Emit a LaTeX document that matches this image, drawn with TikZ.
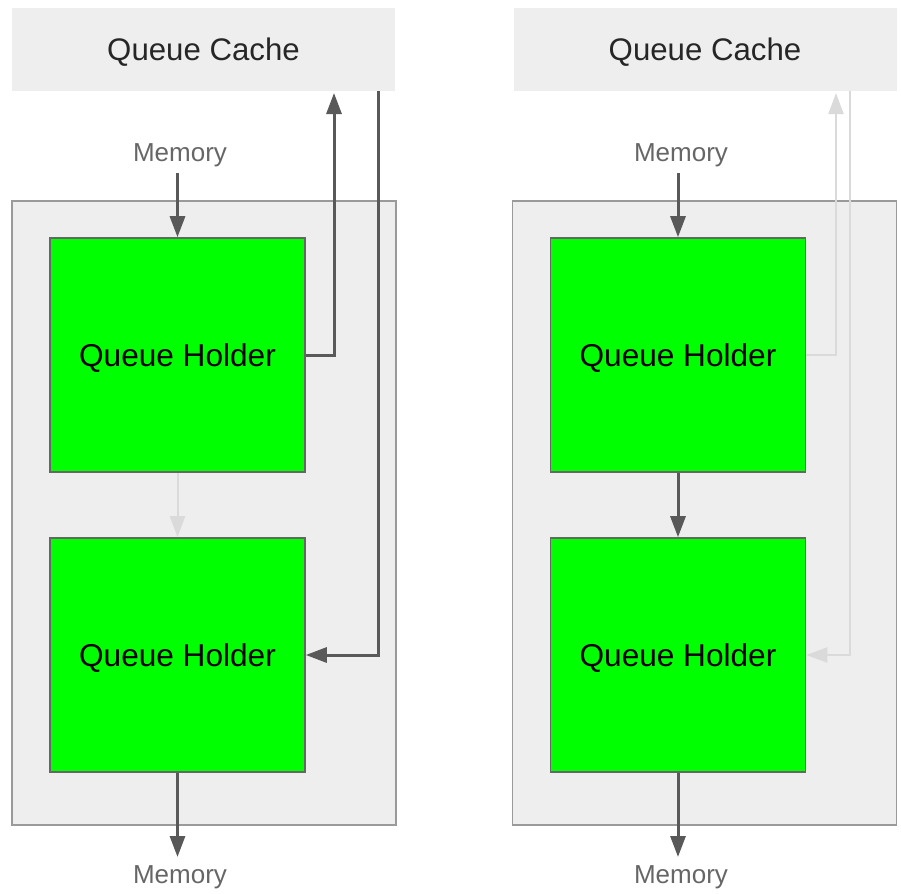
\documentclass[tikz,border=0pt]{standalone}
\usepackage{fontspec}
\setmainfont{Liberation Sans}
\usetikzlibrary{arrows.meta, positioning, calc}
\definecolor{panelgray}{HTML}{EEEEEE}
\definecolor{framegray}{HTML}{9A9A9A}
\definecolor{flowgray}{HTML}{595959}
\definecolor{idlegray}{HTML}{DADADA}
\definecolor{holdgreen}{HTML}{00FF00}
\tikzset{
	cachenode/.style={
			rectangle,
			fill=panelgray,
			draw=none,
			minimum width=191.5pt,
			minimum height=41.5pt,
			inner sep=0pt,
			text depth=0pt,
			font=\fontsize{15.6}{18}\selectfont,
			text=black!85
		},
	framenode/.style={
			rectangle,
			fill=panelgray,
			draw=framegray,
			line width=0.8pt,
			minimum width=192pt,
			minimum height=312pt,
			inner sep=0pt
		},
	holdernode/.style={
			rectangle,
			fill=holdgreen,
			draw=black!60,
			line width=0.8pt,
			minimum width=127.5pt,
			minimum height=117pt,
			inner sep=0pt,
			text depth=0pt,
			font=\fontsize{15.8}{18}\selectfont
		},
	memnode/.style={
			inner sep=0pt,
			text depth=0pt,
			text=black!60,
			font=\fontsize{13}{15}\selectfont
		},
	flow/.style={
			draw=flowgray,
			line width=1.5pt,
			-{Triangle[length=10.5pt,width=7.5pt]}
		},
	idleflow/.style={
			draw=idlegray,
			line width=1pt,
			-{Triangle[length=10.5pt,width=7.5pt]}
		}
}

\begin{document}
\begin{tikzpicture}[x=0.5pt, y=-0.5pt]
\useasboundingbox (0,0) rectangle (901,894);

% left panel
\node[cachenode] (cacheL) at (203.5,49.5) {Queue Cache};
\node[framenode] (frameL) at (204,513) {};
\node[holdernode] (holdL1) at (177.5,355) {Queue Holder};
\node[holdernode] (holdL2) at (177.5,655) {Queue Holder};
\node[memnode] (memL1) at (180,153) {Memory};
\node[memnode] (memL2) at (180,875) {Memory};
\coordinate (upL) at (334,93);
\coordinate (downL) at (378,91);

\draw[flow] (177.5,173) -- (holdL1.north);
\draw[idleflow] (holdL1.south) -- (holdL2.north);
\draw[flow] (holdL2.south) -- (177.5,857);
\draw[flow] (holdL1.east) -| (upL);
\draw[flow] (downL) |- (holdL2.east);

% right panel
\node[cachenode] (cacheR) at (705,49.5) {Queue Cache};
\node[framenode] (frameR) at (704.5,513) {};
\node[holdernode] (holdR1) at (678,355) {Queue Holder};
\node[holdernode] (holdR2) at (678,655) {Queue Holder};
\node[memnode] (memR1) at (681,153) {Memory};
\node[memnode] (memR2) at (681,875) {Memory};
\coordinate (upR) at (836,93);
\coordinate (downR) at (850,91);

\draw[flow] (678,173) -- (holdR1.north);
\draw[flow] (holdR1.south) -- (holdR2.north);
\draw[flow] (holdR2.south) -- (678,857);
\draw[idleflow] (holdR1.east) -| (upR);
\draw[idleflow] (downR) |- (holdR2.east);

\end{tikzpicture}
\end{document}
